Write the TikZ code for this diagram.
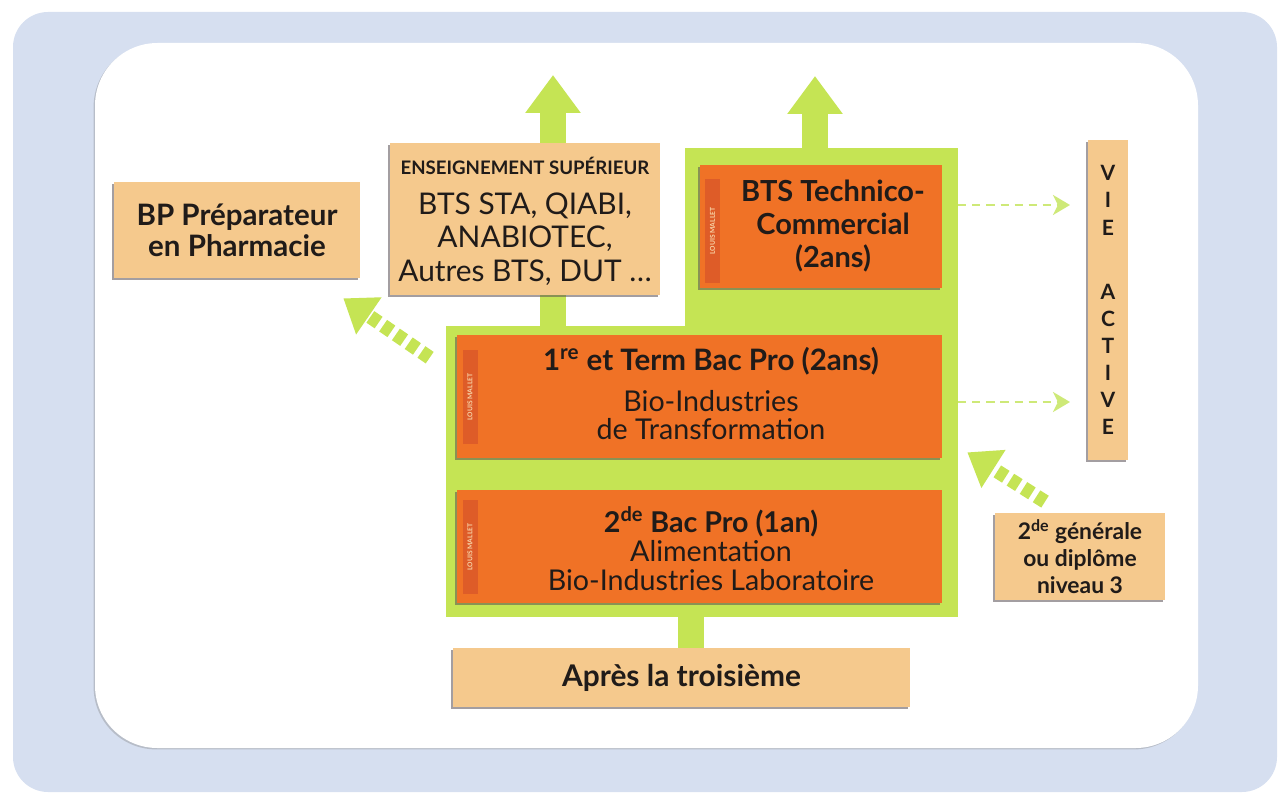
\documentclass[tikz,border=0pt]{standalone}
\usepackage{fontspec}
\setmainfont{Lato}
\usetikzlibrary{arrows.meta,positioning,shadows,backgrounds}
\definecolor{lmInk}{RGB}{32,27,25}
\definecolor{lmBack}{RGB}{214,223,240}
\definecolor{lmGreen}{RGB}{197,228,84}
\definecolor{lmLeaf}{RGB}{206,233,120}
\definecolor{lmTan}{RGB}{245,201,141}
\definecolor{lmOrange}{RGB}{240,114,38}
\definecolor{lmStrip}{RGB}{222,92,40}
\definecolor{lmShade}{RGB}{88,80,84}
\tikzset{
  lmhead/.style={font=\bfseries\fontsize{16.8}{19}\selectfont,
    text=lmInk, align=center},
  lmbody/.style={font=\fontsize{16.3}{15.5}\selectfont,
    text=lmInk, align=center},
  lmshadow/.style={drop shadow={shadow xshift=-1.1pt, shadow yshift=-1.1pt,
    opacity=.55, fill=lmShade}},
  lmflow/.style={-{Stealth[length=.34cm,width=.40cm,inset=.10cm]},
    line width=1.4pt, draw=lmLeaf, dash pattern=on 4.6pt off 3.4pt}
}
\begin{document}
\begin{tikzpicture}[x=.02cm, y=-.02cm,
  tanbox/.style={lmshadow, fill=lmTan, inner sep=2pt},
  orabox/.style={lmshadow, fill=lmOrange, inner sep=2pt,
    minimum width=9.70cm},
  strip/.style={fill=lmStrip, minimum height=.30cm, inner sep=0pt,
    font=\bfseries\fontsize{3.8}{4}\selectfont, text=lmTan!75!white},
  zone/.style={fill=lmGreen, inner sep=0pt},
  bigup/.style={-{Triangle[length=.76cm,width=1.06cm]}, line width=.53cm,
    draw=lmGreen},
  bigdash/.style={-{Triangle[length=.62cm,width=.86cm]}, line width=.28cm,
    draw=lmGreen, dash pattern=on .2cm off .11cm}
]
\useasboundingbox (0,0) rectangle (1278,794);

\begin{scope}[on background layer]
  \fill[lmBack, rounded corners=.7cm] (13,12) rectangle (1277,792);
  \fill[white, rounded corners=1.25cm,
    drop shadow={shadow xshift=-.8pt, shadow yshift=-.8pt, opacity=.35}]
    (95,43) rectangle (1198,748);
  \node[zone, minimum width=5.46cm, minimum height=3.56cm] (greenup)
    at (821.5,237) {};
  \node[zone, minimum width=10.24cm, minimum height=5.82cm] (greenlow)
    at (702,471.5) {};
\end{scope}

\coordinate (up1) at (553,75);
\coordinate (up2) at (815,76);
\draw[bigup] ([yshift=-.1cm]up1 |- greenlow.north) -- (up1);
\draw[bigup] ([yshift=-.1cm]up2 |- greenup.north) -- (up2);

% formations du lycee
\node[orabox, minimum height=2.46cm] (ter) at (699.5,396.5) {};
\node[lmhead] at (711,361) {1\textsuperscript{re} et Term Bac Pro (2ans)};
\node[lmbody] at (711,415) {Bio-Industries\\de Transformation};
\node[strip, minimum width=1.90cm, rotate=90] at (470,397) {LOUIS MALLET};

\node[orabox, minimum height=2.26cm] (sec) at (699.5,546.5) {};
\node[lmbody, font=\fontsize{16.3}{16.5}\selectfont] at (711,549)
  {\textbf{2\textsuperscript{de} Bac Pro (1an)}\\Alimentation\\
   Bio-Industries Laboratoire};
\node[strip, minimum width=1.90cm, rotate=90] at (470,547) {LOUIS MALLET};

\node[orabox, minimum width=4.84cm, minimum height=2.46cm] (bts)
  at (821,226.5) {};
\node[lmhead, font=\bfseries\fontsize{16.5}{18.8}\selectfont] at (833,226)
  {BTS Technico-\\Commercial\\(2ans)};
\node[strip, minimum width=2.10cm, rotate=90] at (712.5,231) {LOUIS MALLET};

% sorties
\node[tanbox, minimum width=5.40cm, minimum height=3.04cm] (ens)
  at (525,219) {};
\node[font=\bfseries\fontsize{10.6}{12}\selectfont, text=lmInk] at (525,166)
  {ENSEIGNEMENT SUPÉRIEUR};
\node[lmbody, font=\fontsize{17}{19}\selectfont] at (525,239)
  {BTS STA, QIABI,\\ANABIOTEC,\\Autres BTS, DUT \dots};

\node[tanbox, minimum width=4.92cm, minimum height=1.92cm, lmhead,
  font=\bfseries\fontsize{16.8}{17.5}\selectfont] (bp) at (237,230)
  {BP Préparateur\\en Pharmacie};

\node[tanbox, minimum width=.80cm, minimum height=6.40cm, lmhead,
  font=\bfseries\fontsize{12}{15.4}\selectfont] (vie) at (1108,300)
  {V\\I\\E\\[.74cm]A\\C\\T\\I\\V\\E};

% entrees
\node[tanbox, minimum width=9.14cm, minimum height=1.18cm, lmhead,
  font=\bfseries\fontsize{17}{19}\selectfont]
  (apres) at (681.5,677.5) {Après la troisième};
\node[tanbox, minimum width=3.40cm, minimum height=1.74cm, lmhead,
  font=\bfseries\fontsize{13}{15.4}\selectfont] (gen) at (1080,556.5)
  {2\textsuperscript{de} générale\\ou diplôme\\niveau 3};

\draw[line width=.53cm, draw=lmGreen] ([xshift=5.5pt]apres.north)
  -- ([xshift=5.5pt]apres.north |- greenlow.south);

\coordinate (va1) at (1070,205);
\coordinate (va2) at (1070,402);
\draw[lmflow] (greenup.east |- va1) -- (va1);
\draw[lmflow] (greenlow.east |- va2) -- (va2);

\draw[bigdash] ([shift={(-27,23)}]ter.north west)
  -- ([shift={(-17,20)}]bp.south east);
\draw[bigdash] ([shift={(-35,-11)}]gen.north)
  -- ([shift={(25,-6)}]ter.south east);
\end{tikzpicture}
\end{document}
